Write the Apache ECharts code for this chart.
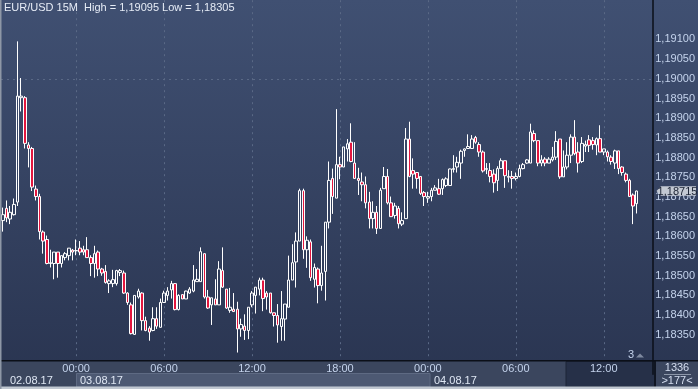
<!DOCTYPE html>
<html><head><meta charset="utf-8">
<script src="https://cdn.jsdelivr.net/npm/echarts@6/dist/echarts.min.js"></script>
<style>html,body{margin:0;padding:0;background:#2f3a55;overflow:hidden}#c{width:698px;height:389px}</style>
</head><body><div id="c"></div>
<script>
const FONT = "'Liberation Sans Narrow','Arial Narrow','Liberation Sans',Arial,sans-serif";
const titleText = 'EUR/USD 15M  High = 1,19095 Low = 1,18305';
const startHour = 19; // first bar: 02.08.17 19:00, 15-minute bars
const barCount = 178; // visible slots (last 4 empty)
const times = [];
for (let i = 0; i < barCount; i++) {
  const m = startHour * 60 + i * 15;
  const h = Math.floor(m / 60) % 24, mm = m % 60;
  times.push(String(h).padStart(2, '0') + ':' + String(mm).padStart(2, '0'));
}
const opens = [1.18640,1.18671,1.18644,1.18655,1.18687,1.18952,1.18952,1.18832,1.18823,1.18720,
1.18701,1.18611,1.18592,1.18531,1.18531,1.18560,1.18531,1.18546,1.18551,1.18565,
1.18563,1.18570,1.18566,1.18566,1.18546,1.18531,1.18560,1.18517,1.18511,1.18480,
1.18480,1.18480,1.18508,1.18507,1.18456,1.18426,1.18351,1.18446,1.18456,1.18386,
1.18367,1.18361,1.18391,1.18369,1.18432,1.18450,1.18464,1.18480,1.18414,1.18452,
1.18441,1.18456,1.18461,1.18485,1.18485,1.18556,1.18446,1.18426,1.18441,1.18426,
1.18513,1.18466,1.18412,1.18415,1.18415,1.18365,1.18372,1.18361,1.18426,1.18450,
1.18466,1.18489,1.18456,1.18456,1.18406,1.18399,1.18371,1.18390,1.18420,1.18489,
1.18535,1.18588,1.18716,1.18566,1.18586,1.18491,1.18517,1.18475,1.18511,1.18636,
1.18747,1.18697,1.18782,1.18776,1.18822,1.18839,1.18786,1.18747,1.18738,1.18731,
1.18687,1.18645,1.18661,1.18620,1.18721,1.18752,1.18685,1.18653,1.18671,1.18631,
1.18645,1.18847,1.18767,1.18762,1.18752,1.18711,1.18697,1.18701,1.18717,1.18721,
1.18721,1.18729,1.18729,1.18770,1.18776,1.18786,1.18818,1.18823,1.18823,1.18851,
1.18833,1.18814,1.18770,1.18767,1.18758,1.18742,1.18772,1.18792,1.18750,1.18752,
1.18747,1.18752,1.18772,1.18786,1.18786,1.18861,1.18843,1.18786,1.18796,1.18786,
1.18794,1.18801,1.18847,1.18751,1.18776,1.18806,1.18852,1.18814,1.18790,1.18829,
1.18845,1.18843,1.18832,1.18848,1.18814,1.18814,1.18801,1.18786,1.18817,1.18776,
1.18758,1.18742,1.18705,1.18683];
const closes = [1.18655,1.18647,1.18661,1.18681,1.18956,1.18956,1.18836,1.18823,1.18725,1.18701,
1.18612,1.18588,1.18531,1.18533,1.18560,1.18531,1.18551,1.18556,1.18570,1.18560,
1.18564,1.18560,1.18560,1.18546,1.18531,1.18556,1.18517,1.18507,1.18483,1.18487,
1.18490,1.18513,1.18513,1.18456,1.18432,1.18353,1.18450,1.18461,1.18386,1.18361,
1.18357,1.18391,1.18372,1.18432,1.18456,1.18461,1.18480,1.18414,1.18450,1.18441,
1.18461,1.18466,1.18489,1.18491,1.18561,1.18446,1.18418,1.18444,1.18426,1.18517,
1.18471,1.18418,1.18420,1.18409,1.18365,1.18376,1.18361,1.18420,1.18456,1.18471,
1.18489,1.18442,1.18446,1.18406,1.18399,1.18375,1.18391,1.18428,1.18489,1.18533,
1.18588,1.18716,1.18566,1.18590,1.18495,1.18521,1.18475,1.18507,1.18636,1.18742,
1.18701,1.18782,1.18776,1.18827,1.18835,1.18790,1.18747,1.18742,1.18731,1.18685,
1.18645,1.18661,1.18620,1.18717,1.18752,1.18685,1.18650,1.18677,1.18632,1.18640,
1.18847,1.18752,1.18758,1.18747,1.18709,1.18701,1.18701,1.18717,1.18723,1.18707,
1.18744,1.18746,1.18771,1.18772,1.18788,1.18816,1.18822,1.18828,1.18847,1.18839,
1.18814,1.18766,1.18772,1.18752,1.18736,1.18772,1.18792,1.18754,1.18752,1.18747,
1.18752,1.18772,1.18782,1.18794,1.18865,1.18843,1.18786,1.18794,1.18786,1.18796,
1.18801,1.18841,1.18751,1.18776,1.18806,1.18852,1.18810,1.18786,1.18836,1.18833,
1.18831,1.18833,1.18848,1.18814,1.18822,1.18802,1.18790,1.18817,1.18772,1.18762,
1.18742,1.18701,1.18677,1.18715];
const lows = [1.18612,1.18636,1.18631,1.18653,1.18677,1.18917,1.18823,1.18775,1.18715,1.18691,
1.18592,1.18556,1.18529,1.18521,1.18491,1.18495,1.18521,1.18539,1.18539,1.18539,
1.18552,1.18552,1.18552,1.18546,1.18499,1.18495,1.18499,1.18500,1.18480,1.18456,
1.18471,1.18475,1.18499,1.18454,1.18426,1.18351,1.18351,1.18442,1.18361,1.18359,
1.18335,1.18359,1.18365,1.18369,1.18432,1.18437,1.18442,1.18412,1.18412,1.18441,
1.18441,1.18454,1.18458,1.18485,1.18485,1.18442,1.18416,1.18375,1.18426,1.18426,
1.18469,1.18416,1.18406,1.18409,1.18305,1.18345,1.18337,1.18339,1.18420,1.18404,
1.18450,1.18410,1.18414,1.18404,1.18371,1.18330,1.18335,1.18335,1.18420,1.18489,
1.18470,1.18588,1.18543,1.18520,1.18487,1.18470,1.18430,1.18462,1.18437,1.18620,
1.18657,1.18697,1.18745,1.18776,1.18790,1.18788,1.18746,1.18705,1.18689,1.18671,
1.18620,1.18620,1.18606,1.18620,1.18721,1.18681,1.18649,1.18645,1.18620,1.18626,
1.18645,1.18750,1.18721,1.18721,1.18705,1.18677,1.18685,1.18689,1.18717,1.18705,
1.18705,1.18725,1.18728,1.18762,1.18762,1.18746,1.18802,1.18822,1.18823,1.18835,
1.18802,1.18762,1.18758,1.18737,1.18711,1.18715,1.18772,1.18723,1.18737,1.18721,
1.18742,1.18750,1.18770,1.18784,1.18786,1.18839,1.18778,1.18778,1.18778,1.18786,
1.18790,1.18794,1.18746,1.18751,1.18770,1.18786,1.18806,1.18762,1.18786,1.18814,
1.18814,1.18820,1.18806,1.18814,1.18806,1.18790,1.18782,1.18771,1.18758,1.18754,
1.18737,1.18701,1.18631,1.18658];
const highs = [1.18673,1.18691,1.18677,1.18696,1.19095,1.19002,1.18956,1.18839,1.18827,1.18729,
1.18708,1.18615,1.18602,1.18566,1.18560,1.18560,1.18551,1.18560,1.18570,1.18568,
1.18592,1.18588,1.18576,1.18598,1.18552,1.18576,1.18564,1.18520,1.18527,1.18491,
1.18515,1.18515,1.18517,1.18513,1.18458,1.18432,1.18450,1.18467,1.18458,1.18396,
1.18372,1.18420,1.18420,1.18442,1.18462,1.18471,1.18487,1.18481,1.18453,1.18452,
1.18462,1.18471,1.18527,1.18517,1.18572,1.18556,1.18464,1.18444,1.18491,1.18537,
1.18572,1.18466,1.18469,1.18456,1.18434,1.18391,1.18402,1.18420,1.18461,1.18471,
1.18495,1.18495,1.18461,1.18456,1.18406,1.18428,1.18461,1.18428,1.18551,1.18580,
1.18610,1.18721,1.18721,1.18600,1.18592,1.18531,1.18521,1.18576,1.18636,1.18790,
1.18772,1.18923,1.18802,1.18827,1.18847,1.18887,1.18839,1.18774,1.18762,1.18752,
1.18713,1.18689,1.18677,1.18723,1.18776,1.18771,1.18701,1.18685,1.18677,1.18661,
1.18875,1.18891,1.18798,1.18762,1.18752,1.18715,1.18713,1.18723,1.18730,1.18746,
1.18747,1.18750,1.18772,1.18806,1.18802,1.18820,1.18823,1.18859,1.18857,1.18855,
1.18839,1.18818,1.18786,1.18786,1.18770,1.18778,1.18798,1.18792,1.18768,1.18766,
1.18762,1.18782,1.18786,1.18796,1.18886,1.18869,1.18843,1.18806,1.18801,1.18801,
1.18827,1.18867,1.18847,1.18818,1.18839,1.18859,1.18895,1.18839,1.18852,1.18843,
1.18857,1.18852,1.18851,1.18882,1.18822,1.18818,1.18806,1.18820,1.18817,1.18778,
1.18762,1.18746,1.18709,1.18716];
const yGridValues = [1.1830,1.1835,1.1840,1.1845,1.1850,1.1855,1.1860,1.1865,1.1870,1.1875,1.1880,1.1885,1.1890,1.1895,1.1900,1.1905,1.1910];
const timeGridLabels = ['00:00','06:00','12:00','18:00'];
const dateLabels = ['02.08.17', '03.08.17', '04.08.17'];
const dimLabelIndex = 164;
const barsInfo = ['1336', '>177<'];
const pageMarker = '3';

const candles = opens.map((o, i) => [o, closes[i], lows[i], highs[i]]);
const lastClose = closes[closes.length - 1];
const fmt = v => v.toFixed(5).replace('.', ',');
const gridIdx = times.map((t, i) => timeGridLabels.includes(t) ? i : -1).filter(i => i >= 0);

const chart = echarts.init(document.getElementById('c'));
chart.setOption({
  animation: false,
  backgroundColor: {type: 'linear', x: 0, y: 0, x2: 0, y2: 1,
    colorStops: [{offset: 0, color: '#405072'}, {offset: 1, color: '#293450'}]},
  grid: {left: 1, right: 43, top: -17.2, bottom: 14.8},
  xAxis: {
    type: 'category', data: times, boundaryGap: true, offset: -13.2, z: 20,
    axisLine: {show: false}, axisTick: {show: false}, splitLine: {show: false},
    axisLabel: {
      interval: (i, v) => timeGridLabels.includes(v), margin: 2,
      fontFamily: FONT, fontSize: 11,
      color: (v, i) => i === dimLabelIndex ? '#67758f' : '#c4d3ec'
    }
  },
  yAxis: {
    type: 'value', position: 'right', min: 1.1825, max: 1.1920, interval: 0.0005, z: 20,
    axisLine: {show: true, lineStyle: {color: '#0b0f18', width: 1.5}},
    axisTick: {show: false}, splitLine: {show: false},
    axisLabel: {
      margin: 2, fontFamily: FONT, fontSize: 11, color: '#c4d3ec',
      formatter: v => (v < 1.18320 || v > 1.19130) ? '' : fmt(v)
    }
  },
  series: [{
    type: 'candlestick', data: candles, barWidth: 3,
    itemStyle: {color: 'rgba(0,0,0,0)', color0: '#e3163e', borderColor: '#ffffff', borderColor0: '#ffffff', borderWidth: 1},
    markLine: {
      silent: true, z: 1, symbol: ['none', 'none'], label: {show: false},
      lineStyle: {color: '#5a6986', type: [2, 4], width: 1},
      emphasis: {disabled: true},
      data: yGridValues.map(v => ({yAxis: v})).concat(gridIdx.map(i => ({xAxis: i})))
    }
  }]
});

const py = chart.convertToPixel({yAxisIndex: 0}, lastClose);
const T = (text, x, y, color, extra) => Object.assign({type: 'text', x, y, z: 30,
  style: Object.assign({text, fill: color, fontSize: 11, fontFamily: FONT, verticalAlign: 'middle'}, extra || {})});
chart.setOption({
  graphic: [
    {type: 'rect', shape: {x: 0, y: 361, width: 698, height: 28}, style: {fill: '#3b465e'}, z: 10},
    {type: 'rect', shape: {x: 76.5, y: 373.5, width: 353.5, height: 13.5}, style: {fill: '#4d5973', stroke: '#5e6a83', lineWidth: 1}, z: 11},
    {type: 'rect', shape: {x: 566, y: 361.5, width: 89, height: 25.5}, style: {fill: '#263048', stroke: '#1c2436', lineWidth: 1}, z: 11},
    {type: 'rect', shape: {x: 0, y: 360, width: 698, height: 1.5}, style: {fill: '#0b0f18'}, z: 12},
    {type: 'rect', shape: {x: 654.3, y: 361, width: 1.5, height: 28}, style: {fill: '#0b0f18'}, z: 12},
    {type: 'rect', shape: {x: 0, y: 386.5, width: 698, height: 2.5}, style: {fill: '#c0c7d1'}, z: 13},
    {type: 'rect', shape: {x: 0, y: 0, width: 1.5, height: 389}, style: {fill: '#8e97a6'}, z: 13},
    T(titleText, 4, 8, '#e6ecf6'),
    T(dateLabels[0], 10, 380.5, '#dfe7f4'),
    T(dateLabels[1], 80, 380.5, '#dfe7f4'),
    T(dateLabels[2], 434, 380.5, '#dfe7f4'),
    T(pageMarker, 628, 355, '#c4d3ec'),
    {type: 'polygon', shape: {points: [[636, 357.5], [644, 357.5], [640, 353.5]]}, style: {fill: '#7f8aa0'}, z: 30},
    T(barsInfo[0], 677, 367.5, '#d5def0', {align: 'center'}),
    {type: 'rect', shape: {x: 664, y: 374, width: 27, height: 1}, style: {fill: '#8d97a9'}, z: 30},
    T(barsInfo[1], 677, 381, '#d5def0', {align: 'center'}),
    {type: 'polygon', shape: {points: [[656.5, py], [661, py - 4.7], [696, py - 4.7], [696, py + 4.7], [661, py + 4.7]]},
      style: {fill: '#c3c9d3'}, z: 31},
    T(fmt(lastClose), 677.5, py + 0.5, '#1a2233', {align: 'center', z: 32}),
  ].map((g, i) => i === 17 ? Object.assign(g, {z: 32}) : g)
});
</script></body></html>
